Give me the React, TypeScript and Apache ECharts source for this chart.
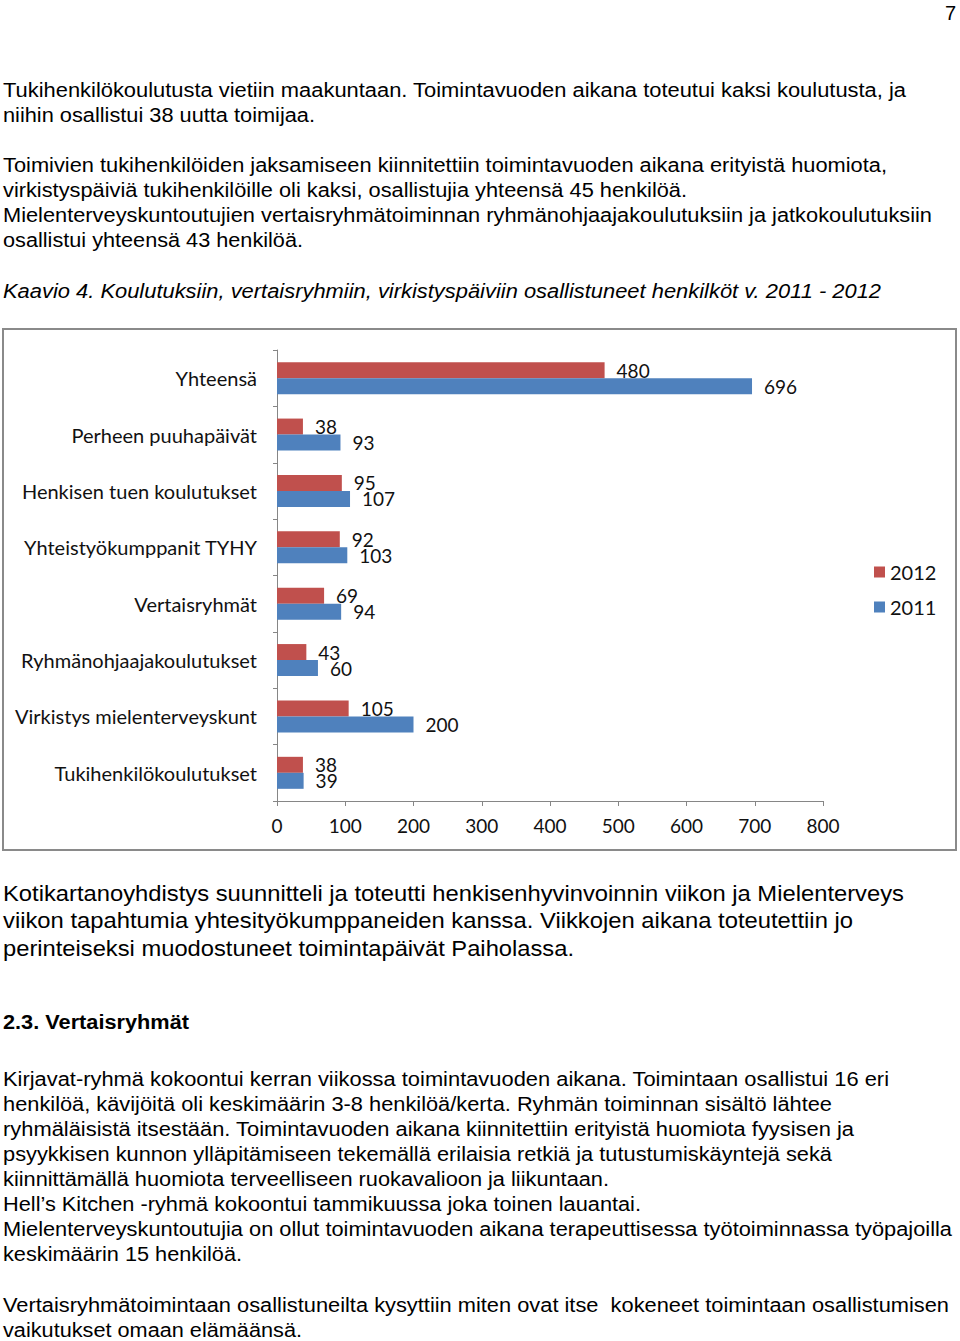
import React, { useEffect, useRef } from "react";
import * as echarts from "echarts";

const categories = [
  "Tukihenkilökoulutukset",
  "Virkistys mielenterveyskunt",
  "Ryhmänohjaajakoulutukset",
  "Vertaisryhmät",
  "Yhteistyökumppanit TYHY",
  "Henkisen tuen koulutukset",
  "Perheen puuhapäivät",
  "Yhteensä",
];
const values2012 = [38, 105, 43, 69, 92, 95, 38, 480];
const values2011 = [39, 200, 60, 94, 103, 107, 93, 696];
const seriesNames = ["2012", "2011"];
const seriesColors = ["#C0504D", "#4F81BD"];

// page text: [text, width, centerY, fontSize, style]
type Line = [string, number, number, number, string?];
const textLines: Line[] = [
  ["Tukihenkilökoulutusta vietiin maakuntaan. Toimintavuoden aikana toteutui kaksi koulutusta, ja", 903, 90, 20],
  ["niihin osallistui 38 uutta toimijaa.", 312, 115, 20],
  ["Toimivien tukihenkilöiden jaksamiseen kiinnitettiin toimintavuoden aikana erityistä huomiota,", 884, 165, 20],
  ["virkistyspäiviä tukihenkilöille oli kaksi, osallistujia yhteensä 45 henkilöä.", 684, 190, 20],
  ["Mielenterveyskuntoutujien vertaisryhmätoiminnan ryhmänohjaajakoulutuksiin ja jatkokoulutuksiin", 929, 215, 20],
  ["osallistui yhteensä 43 henkilöä.", 300, 240, 20],
  ["Kaavio 4. Koulutuksiin, vertaisryhmiin, virkistyspäiviin osallistuneet henkilköt v. 2011 - 2012", 878, 291, 20, "italic"],
  ["Kotikartanoyhdistys suunnitteli ja toteutti henkisenhyvinvoinnin viikon ja Mielenterveys", 901, 893, 22],
  ["viikon tapahtumia yhtesityökumppaneiden kanssa. Viikkojen aikana toteutettiin jo", 850, 920, 22],
  ["perinteiseksi muodostuneet toimintapäivät Paiholassa.", 571, 948, 22],
  ["2.3. Vertaisryhmät", 186, 1022, 20, "bold"],
  ["Kirjavat-ryhmä kokoontui kerran viikossa toimintavuoden aikana. Toimintaan osallistui 16 eri", 886, 1079, 20],
  ["henkilöä, kävijöitä oli keskimäärin 3-8 henkilöä/kerta. Ryhmän toiminnan sisältö lähtee", 829, 1104, 20],
  ["ryhmäläisistä itsestään. Toimintavuoden aikana kiinnitettiin erityistä huomiota fyysisen ja", 851, 1129, 20],
  ["psyykkisen kunnon ylläpitämiseen tekemällä erilaisia retkiä ja tutustumiskäyntejä sekä", 829, 1154, 20],
  ["kiinnittämällä huomiota terveelliseen ruokavalioon ja liikuntaan.", 606, 1179, 20],
  ["Hell’s Kitchen -ryhmä kokoontui tammikuussa joka toinen lauantai.", 638, 1204, 20],
  ["Mielenterveyskuntoutujia on ollut toimintavuoden aikana terapeuttisessa työtoiminnassa työpajoilla", 949, 1229, 20],
  ["keskimäärin 15 henkilöä.", 239, 1254, 20],
  ["Vertaisryhmätoimintaan osallistuneilta kysyttiin miten ovat itse  kokeneet toimintaan osallistumisen", 946, 1305, 20],
  ["vaikutukset omaan elämäänsä.", 299, 1330, 20],
];

const CHART_FONT = "Lato, 'Open Sans', sans-serif";

export default function App() {
  const ref = useRef<HTMLDivElement>(null);

  useEffect(() => {
    if (!ref.current) return;
    const chart = echarts.init(ref.current, undefined, { renderer: "svg" });
    chart.setOption({
      animation: false,
      textStyle: { fontFamily: CHART_FONT },
      graphic: [
        {
          type: "rect",
          shape: { x: 3, y: 9, width: 953, height: 521 },
          style: { fill: "none", stroke: "#8a8a8a", lineWidth: 2 },
          silent: true,
        },
      ],
      grid: { left: 277, right: 137, top: 30, bottom: 59, containLabel: false },
      legend: {
        orient: "vertical",
        left: 869,
        top: 237,
        data: seriesNames,
        icon: "rect",
        itemWidth: 11,
        itemHeight: 11,
        itemGap: 15,
        textStyle: { fontFamily: CHART_FONT, fontSize: 20, color: "#111" },
      },
      xAxis: {
        type: "value",
        min: 0,
        max: 800,
        interval: 100,
        splitLine: { show: false },
        axisLine: { show: true, lineStyle: { color: "#868686", width: 1 } },
        axisTick: { show: true, length: 5, lineStyle: { color: "#868686" } },
        axisLabel: { fontFamily: CHART_FONT, fontSize: 19, color: "#111", margin: 15 },
      },
      yAxis: {
        type: "category",
        data: categories,
        axisLine: { show: true, lineStyle: { color: "#868686", width: 1 } },
        axisTick: { show: true, length: 4, alignWithLabel: false, lineStyle: { color: "#868686" } },
        axisLabel: { fontFamily: CHART_FONT, fontSize: 20, color: "#111", margin: 20 },
      },
      series: [
        {
          name: seriesNames[0],
          type: "bar",
          data: values2012,
          barWidth: 16,
          barGap: "0%",
          itemStyle: { color: seriesColors[0] },
          label: {
            show: true,
            position: "right",
            distance: 12,
            fontFamily: CHART_FONT,
            fontSize: 19,
            color: "#111",
          },
        },
        {
          name: seriesNames[1],
          type: "bar",
          data: values2011,
          barWidth: 16,
          barGap: "0%",
          itemStyle: { color: seriesColors[1] },
          label: {
            show: true,
            position: "right",
            distance: 12,
            fontFamily: CHART_FONT,
            fontSize: 19,
            color: "#111",
          },
        },
      ],
    });
    return () => chart.dispose();
  }, []);

  return (
    <div style={{ position: "absolute", left: 0, top: 0, width: 960, height: 1341, background: "#fff", overflow: "hidden" }}>
      <svg width={960} height={1341} style={{ position: "absolute", left: 0, top: 0 }}>
        <text x={945} y={20} fontFamily="'Liberation Sans', Arial, sans-serif" fontSize={20} fill="#000">
          7
        </text>
        {textLines.map(([t, w, cy, fs, st], i) => (
          <text
            key={i}
            x={3}
            y={cy + fs * 0.36}
            fontFamily="'Liberation Sans', Arial, sans-serif"
            fontSize={fs}
            fontStyle={st === "italic" ? "italic" : "normal"}
            fontWeight={st === "bold" ? "bold" : "normal"}
            fill="#000"
            textLength={w}
            lengthAdjust="spacingAndGlyphs"
            xmlSpace="preserve"
          >
            {t}
          </text>
        ))}
      </svg>
      <div ref={ref} style={{ position: "absolute", left: 0, top: 320, width: 960, height: 540 }} />
    </div>
  );
}
